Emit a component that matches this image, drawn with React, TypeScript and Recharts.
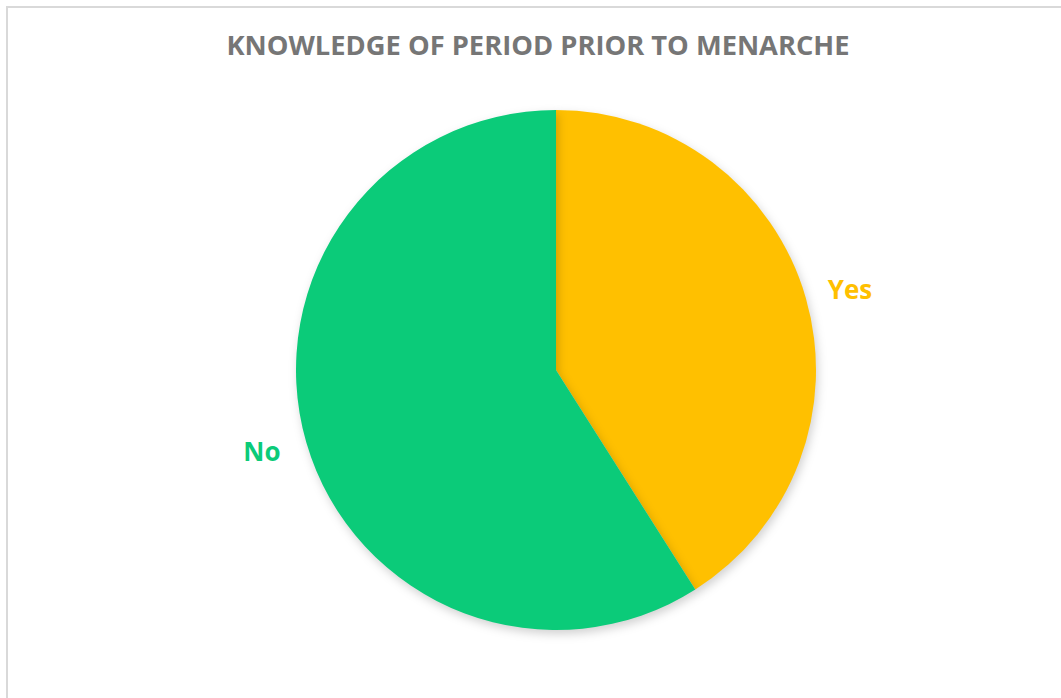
import React from "react";
import { PieChart, Pie, Cell } from "recharts";

const categories = ["Yes", "No"];
const shares = [41, 59];
const colors = ["#FFC000", "#0BCB79"];

const pieData = categories.map((name, i) => ({
  name,
  value: shares[i],
  color: colors[i],
}));

const RADIAN = Math.PI / 180;

// labels sit a bit outside the rim, nudged like Excel does
const renderLabel = (props: any) => {
  const { cx, cy, midAngle, outerRadius, index } = props;
  const r = outerRadius + 45;
  const a = (midAngle - 0.8) * RADIAN;
  const x = cx + r * Math.cos(-a);
  const y = cy + r * Math.sin(-a);
  return (
    <text
      x={x}
      y={y}
      fill={pieData[index].color}
      textAnchor="middle"
      dominantBaseline="central"
      fontSize={26}
      fontWeight={700}
      fontFamily="'Open Sans', sans-serif"
    >
      {pieData[index].name}
    </text>
  );
};

const App: React.FC = () => {
  return (
    <div
      style={{
        position: "fixed",
        inset: 0,
        overflow: "hidden",
        background: "#fff",
      }}
    >
      <style>{`.recharts-pie-sector path { filter: drop-shadow(2px 4px 5px rgba(0,0,0,0.18)); }`}</style>
      <div
        style={{
          position: "absolute",
          left: 6,
          top: 6,
          width: 1100,
          height: 740,
          border: "2px solid #d9d9d9",
        }}
      />
      <div
        style={{
          position: "absolute",
          left: 0,
          top: 26,
          width: 1076,
          textAlign: "center",
          fontFamily: "'Open Sans', sans-serif",
          fontWeight: 700,
          fontSize: 27.3,
          color: "#767676",
          lineHeight: "38px",
        }}
      >
        KNOWLEDGE OF PERIOD PRIOR TO MENARCHE
      </div>
      <div style={{ position: "absolute", left: 0, top: 0 }}>
        <PieChart
          width={1061}
          height={698}
          margin={{ top: 0, right: 0, bottom: 0, left: 0 }}
        >
          <Pie
            data={pieData}
            dataKey="value"
            nameKey="name"
            cx={556}
            cy={370}
            outerRadius={260}
            startAngle={90}
            endAngle={-270}
            stroke="none"
            labelLine={false}
            label={renderLabel}
            isAnimationActive={false}
          >
            {pieData.map((entry, index) => (
              <Cell key={`cell-${index}`} fill={entry.color} />
            ))}
          </Pie>
        </PieChart>
      </div>
    </div>
  );
};

export default App;
